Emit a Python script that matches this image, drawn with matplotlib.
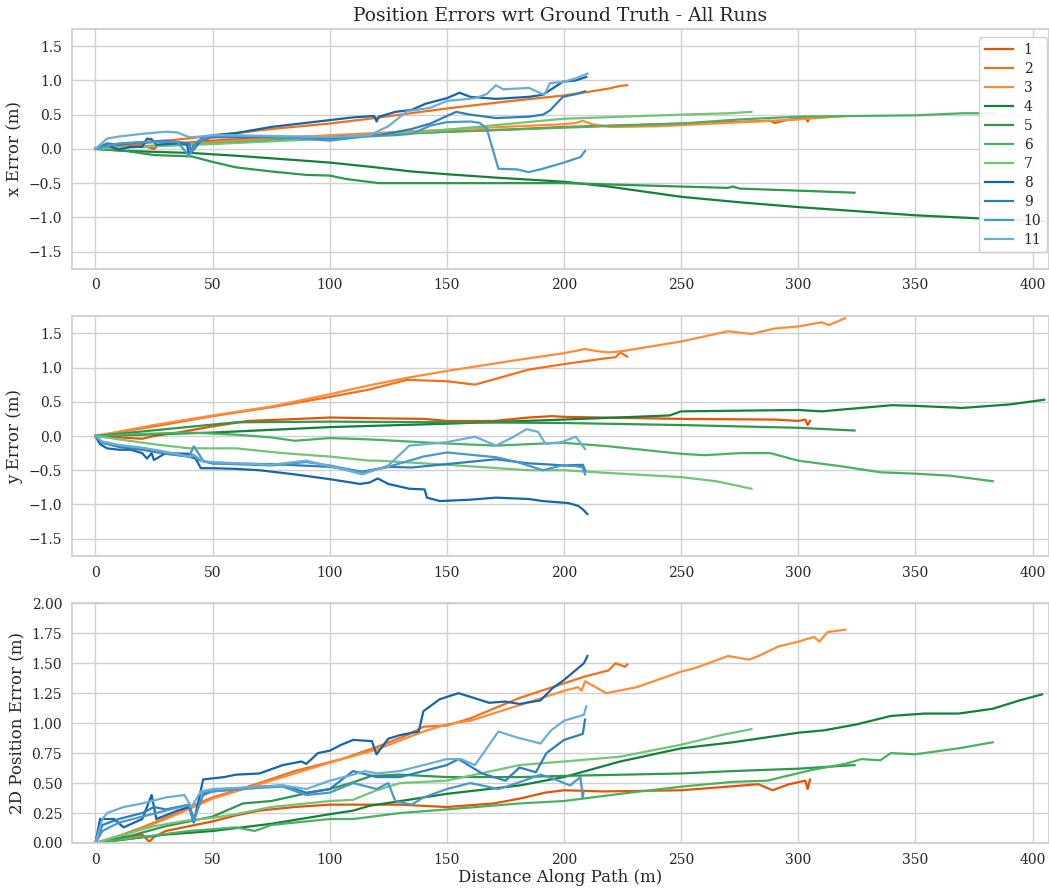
import matplotlib
matplotlib.use('Agg')
import matplotlib.pyplot as plt
import numpy as np

plt.rcParams['font.family'] = ['DejaVu Serif']
plt.rcParams['text.color'] = '.15'
plt.rcParams['axes.labelcolor'] = '.15'
plt.rcParams['xtick.color'] = '.15'
plt.rcParams['ytick.color'] = '.15'

runs = ['1', '2', '3', '4', '5', '6', '7', '8', '9', '10', '11']

# ---- x error (distance, value) per run ----
dx1 = [0, 10, 20, 23, 25, 27, 35, 50, 66, 80, 100, 120, 150, 175, 200, 220, 250, 270, 288, 290, 295, 300, 303, 304, 305]
ex1 = [0, 0.04, 0.06, 0.02, 0.0, 0.06, 0.08, 0.12, 0.15, 0.17, 0.19, 0.21, 0.25, 0.28, 0.32, 0.34, 0.37, 0.39, 0.41, 0.38, 0.42, 0.44, 0.47, 0.40, 0.47]
dx2 = [0, 10, 25, 50, 75, 100, 117, 130, 150, 175, 200, 210, 219, 224, 227]
ex2 = [0, 0.04, 0.1, 0.19, 0.29, 0.37, 0.44, 0.5, 0.59, 0.69, 0.78, 0.83, 0.88, 0.92, 0.93]
dx3 = [0, 25, 50, 100, 150, 180, 200, 205, 208, 212, 220, 240, 270, 300, 320]
ex3 = [0, 0.05, 0.1, 0.2, 0.28, 0.33, 0.36, 0.38, 0.41, 0.36, 0.32, 0.33, 0.38, 0.43, 0.48]
dx4 = [0, 13, 41, 60, 80, 100, 117, 135, 150, 171, 200, 219, 250, 275, 300, 325, 350, 380, 395, 405]
ex4 = [0, -0.03, -0.06, -0.1, -0.15, -0.2, -0.26, -0.33, -0.37, -0.42, -0.48, -0.55, -0.70, -0.78, -0.85, -0.91, -0.97, -1.02, -1.04, -1.06]
dx5 = [0, 13, 25, 41, 50, 60, 75, 90, 100, 107, 121, 150, 200, 220, 250, 270, 272, 275, 300, 324]
ex5 = [0, -0.03, -0.09, -0.11, -0.19, -0.27, -0.33, -0.38, -0.39, -0.44, -0.5, -0.5, -0.5, -0.52, -0.55, -0.57, -0.55, -0.58, -0.61, -0.64]
dx6 = [0, 25, 50, 100, 150, 200, 250, 275, 300, 350, 370, 383]
ex6 = [0, 0.04, 0.08, 0.17, 0.25, 0.31, 0.37, 0.43, 0.47, 0.49, 0.52, 0.52]
dx7 = [0, 25, 50, 100, 150, 181, 200, 225, 250, 270, 280]
ex7 = [0, 0.04, 0.07, 0.15, 0.28, 0.38, 0.44, 0.47, 0.5, 0.52, 0.54]
dx8 = [0, 5, 10, 15, 20, 22, 24, 26, 35, 39, 40, 42, 45, 50, 60, 75, 90, 100, 110, 119, 120, 121, 128, 135, 141, 150, 155.4, 160, 171, 185, 191, 199.5, 205, 209.5]
ex8 = [0, 0.05, -0.01, 0.03, 0.03, 0.15, 0.14, 0.06, 0.08, 0.07, -0.08, 0.05, 0.14, 0.2, 0.23, 0.32, 0.38, 0.42, 0.46, 0.48, 0.40, 0.47, 0.54, 0.57, 0.66, 0.74, 0.82, 0.76, 0.73, 0.76, 0.79, 0.98, 1.0, 1.05]
dx9 = [0, 5, 10, 20, 30, 40, 41, 45, 50, 75, 100, 121, 135, 143, 150, 154, 160, 171, 185, 191, 194, 199.5, 205, 209]
ex9 = [0, 0.08, 0.06, 0.1, 0.12, 0.08, -0.05, 0.12, 0.17, 0.17, 0.15, 0.2, 0.29, 0.37, 0.48, 0.54, 0.5, 0.45, 0.47, 0.5, 0.56, 0.76, 0.8, 0.84]
dx10 = [0, 10, 20, 35, 40, 43, 50, 75, 100, 115, 128, 135, 143, 150, 160, 164, 167, 172, 180, 185, 191, 200, 207, 209]
ex10 = [0, 0.08, 0.1, 0.1, -0.1, 0.1, 0.2, 0.18, 0.12, 0.18, 0.2, 0.22, 0.34, 0.39, 0.4, 0.38, 0.3, -0.29, -0.3, -0.34, -0.29, -0.2, -0.12, -0.03]
dx11 = [0, 5, 10, 20, 30, 35, 40, 45, 50, 75, 100, 117, 125, 133, 143, 150, 162, 167, 171, 174, 185, 191.6, 194, 200, 205, 210]
ex11 = [0, 0.15, 0.18, 0.22, 0.25, 0.24, 0.17, 0.18, 0.2, 0.19, 0.17, 0.2, 0.33, 0.55, 0.6, 0.7, 0.74, 0.8, 0.93, 0.87, 0.89, 0.79, 0.96, 0.98, 1.03, 1.1]

# ---- y error ----
dy1 = [0, 10, 20, 25, 35, 50, 65, 80, 100, 117, 140, 150, 170, 185, 195, 200, 250, 290, 300, 303, 304, 305]
ey1 = [0, -0.02, -0.04, 0.0, 0.05, 0.14, 0.22, 0.24, 0.27, 0.26, 0.25, 0.22, 0.22, 0.27, 0.29, 0.28, 0.25, 0.24, 0.22, 0.24, 0.16, 0.22]
dy2 = [0, 25, 50, 75, 100, 117, 133, 150, 162, 185, 200, 219, 222, 224, 227]
ey2 = [0, 0.14, 0.29, 0.42, 0.57, 0.68, 0.82, 0.8, 0.75, 0.97, 1.05, 1.14, 1.15, 1.22, 1.16]
dy3 = [0, 25, 50, 75, 100, 117, 133, 150, 182, 200, 209, 214, 219, 225, 250, 270, 280, 290, 300, 310, 313, 320]
ey3 = [0, 0.16, 0.3, 0.43, 0.61, 0.74, 0.85, 0.95, 1.12, 1.21, 1.27, 1.24, 1.22, 1.24, 1.38, 1.53, 1.49, 1.57, 1.6, 1.66, 1.62, 1.72]
dy4 = [0, 50, 100, 150, 200, 245, 250, 300, 310, 340, 350, 370, 390, 405]
ey4 = [0, 0.05, 0.13, 0.18, 0.24, 0.3, 0.36, 0.38, 0.36, 0.45, 0.44, 0.41, 0.46, 0.53]
dy5 = [0, 30, 60, 100, 150, 200, 250, 300, 324]
ey5 = [0, 0.1, 0.2, 0.21, 0.2, 0.19, 0.16, 0.12, 0.08]
dy6 = [0, 20, 40, 60, 75, 85, 100, 117, 150, 171, 191, 200, 219, 250, 260, 275, 288, 300, 320, 335, 350, 365, 383]
ey6 = [0, 0.03, 0.05, 0.02, -0.02, -0.07, -0.03, -0.05, -0.11, -0.14, -0.11, -0.1, -0.15, -0.26, -0.28, -0.25, -0.25, -0.36, -0.45, -0.53, -0.55, -0.58, -0.66]
dy7 = [0, 25, 40, 60, 80, 100, 117, 121, 150, 185, 200, 219, 250, 265, 280]
ey7 = [0, -0.12, -0.18, -0.18, -0.25, -0.3, -0.36, -0.36, -0.42, -0.5, -0.5, -0.54, -0.6, -0.66, -0.77]
dy8 = [0, 2, 5, 10, 15, 20, 22, 24, 25, 30, 40, 42, 45, 50, 60, 70, 85, 100, 113, 117, 120.5, 125, 134, 140.5, 141.5, 147, 160, 171, 185, 191, 202, 206, 208, 210]
ey8 = [0, -0.12, -0.18, -0.2, -0.2, -0.25, -0.33, -0.25, -0.35, -0.25, -0.26, -0.28, -0.47, -0.47, -0.48, -0.5, -0.56, -0.63, -0.7, -0.68, -0.62, -0.7, -0.77, -0.78, -0.9, -0.95, -0.93, -0.9, -0.92, -0.95, -0.98, -1.02, -1.07, -1.14]
dy9 = [0, 3, 10, 20, 30, 40, 46, 50, 75, 100, 114, 125, 135, 150, 171, 185, 191, 200, 208, 209]
ey9 = [0, -0.1, -0.16, -0.2, -0.26, -0.3, -0.37, -0.4, -0.41, -0.45, -0.52, -0.45, -0.46, -0.41, -0.34, -0.4, -0.41, -0.43, -0.42, -0.5]
dy10 = [0, 3, 10, 20, 30, 40, 42, 46, 50, 75, 90, 100, 114, 125, 140, 150, 171, 180, 191, 199, 205, 208, 209]
ey10 = [0, -0.1, -0.14, -0.18, -0.25, -0.3, -0.15, -0.36, -0.4, -0.43, -0.38, -0.43, -0.53, -0.45, -0.3, -0.24, -0.31, -0.38, -0.5, -0.43, -0.44, -0.46, -0.56]
dy11 = [0, 3, 10, 20, 30, 40, 42, 46, 50, 75, 90, 100, 114, 125, 134, 150, 162, 171, 178, 184, 189, 192, 199, 205, 209]
ey11 = [0, -0.08, -0.13, -0.17, -0.23, -0.3, -0.28, -0.37, -0.38, -0.42, -0.36, -0.44, -0.56, -0.43, -0.14, -0.09, -0.01, -0.14, -0.02, 0.1, 0.06, -0.11, -0.09, -0.01, -0.19]

# ---- 2D position error ----
dp1 = [0, 10, 20, 23, 25, 30, 50, 60, 70, 85, 100, 130, 150, 170, 181, 192, 200, 217, 250, 283, 289, 296, 303, 304, 305]
ep1 = [0, 0.04, 0.07, 0.01, 0.05, 0.1, 0.18, 0.23, 0.27, 0.3, 0.32, 0.32, 0.3, 0.33, 0.37, 0.42, 0.44, 0.43, 0.44, 0.49, 0.44, 0.49, 0.52, 0.45, 0.53]
dp2 = [0, 10, 20, 35, 40, 50, 70, 85, 105, 120, 133, 140, 150, 160, 181, 195, 209, 219, 222, 226, 227]
ep2 = [0, 0.06, 0.13, 0.25, 0.3, 0.38, 0.5, 0.6, 0.7, 0.8, 0.9, 0.97, 0.98, 1.04, 1.21, 1.3, 1.39, 1.44, 1.5, 1.47, 1.49]
dp3 = [0, 10, 20, 35, 50, 70, 85, 100, 120, 140, 150, 160, 181, 200, 206, 207.5, 209, 218, 231, 250, 256, 270, 279, 283, 291.5, 300, 306.7, 309, 312.5, 320]
ep3 = [0, 0.05, 0.12, 0.24, 0.37, 0.49, 0.58, 0.67, 0.78, 0.93, 0.99, 1.02, 1.15, 1.27, 1.3, 1.27, 1.35, 1.25, 1.3, 1.43, 1.46, 1.56, 1.53, 1.56, 1.64, 1.68, 1.72, 1.68, 1.76, 1.78]
dp4 = [0, 30, 50, 75, 100, 110, 117, 150, 181, 200, 224, 250, 272, 300, 311, 325, 339.5, 354, 368.5, 383, 394.5, 404]
ep4 = [0, 0.07, 0.1, 0.16, 0.24, 0.27, 0.31, 0.41, 0.48, 0.55, 0.68, 0.79, 0.84, 0.92, 0.94, 0.99, 1.06, 1.08, 1.08, 1.12, 1.19, 1.24]
dp5 = [0, 15, 30, 50, 63, 75, 89, 100, 109, 118, 130, 150, 181, 200, 250, 272, 300, 324]
ep5 = [0, 0.06, 0.14, 0.22, 0.33, 0.35, 0.41, 0.45, 0.5, 0.56, 0.57, 0.55, 0.55, 0.56, 0.58, 0.6, 0.62, 0.65]
dp6 = [0, 20, 40, 60, 68, 75, 100, 110, 130, 150, 181, 200, 224, 250, 272, 287, 293, 306, 320, 327, 335, 339.5, 350, 361, 368.5, 383]
ep6 = [0, 0.05, 0.1, 0.13, 0.1, 0.15, 0.2, 0.2, 0.25, 0.28, 0.33, 0.35, 0.41, 0.47, 0.51, 0.52, 0.55, 0.61, 0.66, 0.7, 0.69, 0.75, 0.74, 0.77, 0.79, 0.84]
dp7 = [0, 10, 25, 40, 50, 60, 75, 100, 110, 120, 130, 150, 181, 200, 224, 250, 267, 280]
ep7 = [0, 0.06, 0.14, 0.19, 0.21, 0.24, 0.3, 0.35, 0.36, 0.44, 0.5, 0.52, 0.65, 0.68, 0.72, 0.82, 0.9, 0.95]
dp8 = [0, 2, 8, 12, 20, 24, 25, 26, 35, 40, 42, 46, 55, 60, 70, 80, 88, 90, 95, 100, 105, 110, 118, 120, 125, 130, 138, 140, 147, 155, 160, 168, 175, 181, 190, 195, 200, 208.5, 210]
ep8 = [0, 0.2, 0.2, 0.13, 0.2, 0.4, 0.3, 0.2, 0.27, 0.3, 0.17, 0.53, 0.55, 0.57, 0.58, 0.65, 0.68, 0.66, 0.75, 0.77, 0.82, 0.86, 0.85, 0.74, 0.87, 0.9, 0.93, 1.1, 1.2, 1.25, 1.22, 1.17, 1.18, 1.16, 1.19, 1.29, 1.36, 1.5, 1.56]
dp9 = [0, 3, 10, 20, 25, 30, 40, 42, 46, 50, 70, 80, 90, 100, 110, 120, 130, 140, 150, 155, 165, 175, 181, 188, 192.5, 200, 208, 209]
ep9 = [0, 0.15, 0.2, 0.25, 0.3, 0.28, 0.32, 0.2, 0.4, 0.43, 0.47, 0.48, 0.42, 0.45, 0.6, 0.55, 0.55, 0.6, 0.65, 0.7, 0.58, 0.52, 0.63, 0.59, 0.75, 0.86, 0.91, 1.03]
dp10 = [0, 3, 10, 20, 30, 40, 42, 46, 50, 70, 80, 90, 100, 110, 120, 125, 128, 135, 140, 150, 160, 165, 172, 180, 190, 195, 202.6, 207, 208, 208.3]
ep10 = [0, 0.1, 0.17, 0.22, 0.27, 0.32, 0.18, 0.42, 0.43, 0.46, 0.47, 0.4, 0.42, 0.5, 0.45, 0.5, 0.35, 0.32, 0.38, 0.45, 0.5, 0.48, 0.45, 0.5, 0.57, 0.54, 0.48, 0.55, 0.38, 0.42]
dp11 = [0, 3, 5, 12, 20, 30, 38, 41, 45, 50, 70, 80, 90, 100, 110, 115, 120, 130, 140, 150, 156, 162, 172, 180, 190, 194.5, 200, 208.5, 209.5]
ep11 = [0, 0.2, 0.25, 0.3, 0.33, 0.38, 0.4, 0.3, 0.43, 0.45, 0.47, 0.48, 0.45, 0.52, 0.57, 0.6, 0.58, 0.6, 0.65, 0.7, 0.7, 0.65, 0.93, 0.88, 0.83, 0.94, 1.02, 1.07, 1.14]

x_err = [(dx1, ex1), (dx2, ex2), (dx3, ex3), (dx4, ex4), (dx5, ex5), (dx6, ex6),
         (dx7, ex7), (dx8, ex8), (dx9, ex9), (dx10, ex10), (dx11, ex11)]
y_err = [(dy1, ey1), (dy2, ey2), (dy3, ey3), (dy4, ey4), (dy5, ey5), (dy6, ey6),
         (dy7, ey7), (dy8, ey8), (dy9, ey9), (dy10, ey10), (dy11, ey11)]
pos_err = [(dp1, ep1), (dp2, ep2), (dp3, ep3), (dp4, ep4), (dp5, ep5), (dp6, ep6),
           (dp7, ep7), (dp8, ep8), (dp9, ep9), (dp10, ep10), (dp11, ep11)]

# colour families: oranges, greens, blues
colors = ([plt.cm.Oranges(v) for v in [0.7, 0.6, 0.5]] +
          [plt.cm.Greens(v) for v in [0.8, 0.7, 0.6, 0.5]] +
          [plt.cm.Blues(v) for v in [0.8, 0.7, 0.6, 0.5]])

fig, axes = plt.subplots(3, 1, figsize=(10.49, 8.88), dpi=100)
fig.subplots_adjust(left=0.0686, right=1.0, top=0.9673, bottom=0.0507, hspace=0.198)

panels = [(x_err, 'x Error (m)', (-1.75, 1.75)),
          (y_err, 'y Error (m)', (-1.75, 1.75)),
          (pos_err, '2D Position Error (m)', (0, 2.0))]

for ax, (data, ylabel, ylim) in zip(axes, panels):
    for i, (d, v) in enumerate(data):
        ax.plot(d, v, color=colors[i], lw=1.6, label=runs[i])
    ax.set_ylabel(ylabel, fontsize=12)
    ax.set_ylim(*ylim)
    ax.set_xlim(-10, 407)
    ax.set_xticks(range(0, 401, 50))
    ax.grid(True, color='.82', lw=1)
    ax.set_axisbelow(True)
    ax.tick_params(length=0, labelsize=10, pad=7)
    for s in ax.spines.values():
        s.set_color('.8')
        s.set_linewidth(1.2)

axes[0].set_title('Position Errors wrt Ground Truth - All Runs', fontsize=13.5)
axes[0].legend(loc='upper right', bbox_to_anchor=(0.998, 0.967), borderaxespad=0,
               fontsize=10, labelspacing=0.36, frameon=True, edgecolor='.8',
               framealpha=0.9)
axes[2].set_xlabel('Distance Along Path (m)', fontsize=12, labelpad=2)

fig.savefig('out.png', dpi=100)
